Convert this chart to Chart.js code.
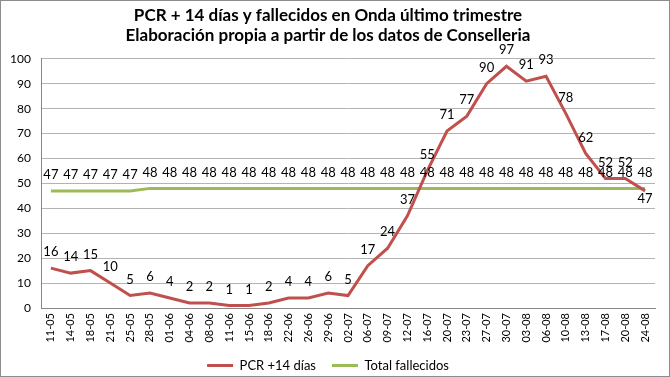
<!DOCTYPE html>
<html>
<head>
<meta charset="utf-8">
<script src="https://cdn.jsdelivr.net/npm/chart.js@4"></script>
<style>
  html, body { margin: 0; padding: 0; background: #fff; }
  #wrap { position: relative; width: 668px; height: 375px; border: 1px solid #8c8c8c; }
</style>
</head>
<body>
<div id="wrap"><canvas id="chart"></canvas></div>
<script>
var fechas = ['11-05', '14-05', '18-05', '21-05', '25-05', '28-05', '01-06', '04-06', '08-06', '11-06',
    '15-06', '18-06', '22-06', '26-06', '29-06', '02-07', '06-07', '09-07', '12-07', '16-07',
    '20-07', '23-07', '27-07', '30-07', '03-08', '06-08', '10-08', '13-08', '17-08', '20-08', '24-08'];
var pcr14 = [16, 14, 15, 10, 5, 6, 4, 2, 2, 1, 1, 2, 4, 4, 6, 5, 17, 24, 37, 55, 71, 77, 90, 97, 91, 93, 78, 62, 52, 52, 47];
var fallecidos = [47, 47, 47, 47, 47, 48, 48, 48, 48, 48, 48, 48, 48, 48, 48, 48, 48, 48, 48, 48,
    48, 48, 48, 48, 48, 48, 48, 48, 48, 48, 48];
var yTicks = [0, 10, 20, 30, 40, 50, 60, 70, 80, 90, 100];

var fontFam = "Lato, 'Open Sans', sans-serif";
Chart.defaults.font.family = fontFam;
Chart.defaults.color = '#000';

// etiquetas de valor estilo Excel: encima del punto, debajo si choca con la otra serie
var valueLabels = {
    id: 'valueLabels',
    afterDatasetsDraw: function(chart) {
        var ctx = chart.ctx;
        ctx.save();
        ctx.font = '13px ' + fontFam;
        ctx.fillStyle = '#000';
        ctx.textAlign = 'center';
        ctx.textBaseline = 'middle';
        chart.data.datasets.forEach(function(ds, di) {
            var meta = chart.getDatasetMeta(di);
            var other = chart.data.datasets[1 - di].data;
            meta.data.forEach(function(pt, i) {
                var v = ds.data[i];
                var dy = -16;
                if (di === 0 && v < other[i] && other[i] - v < 5) dy = 8;
                ctx.fillText(String(v), pt.x, pt.y + dy);
            });
        });
        ctx.restore();
    }
};

new Chart(document.getElementById('chart'), {
    type: 'line',
    data: {
        labels: fechas,
        datasets: [{
            label: 'PCR +14 días',
            data: pcr14,
            borderColor: '#c0504d',
            backgroundColor: '#c0504d',
            borderWidth: 3,
            pointRadius: 0,
            tension: 0
        }, {
            label: 'Total fallecidos',
            data: fallecidos,
            borderColor: '#9bbb59',
            backgroundColor: '#9bbb59',
            borderWidth: 3,
            pointRadius: 0,
            tension: 0
        }]
    },
    options: {
        responsive: true,
        maintainAspectRatio: false,
        animation: false,
        layout: { padding: { left: 0, right: 14, top: 0, bottom: 0 } },
        plugins: {
            title: {
                display: true,
                text: ['PCR + 14 días y fallecidos en Onda último trimestre',
                       'Elaboración propia a partir de los datos de Conselleria'],
                font: { size: 17, weight: 'bold' },
                color: '#000',
                lineHeight: 1.3,
                padding: { top: 4, bottom: 13 }
            },
            legend: {
                position: 'bottom',
                maxHeight: 33,
                labels: {
                    usePointStyle: true,
                    pointStyle: 'line',
                    pointStyleWidth: 26,
                    boxWidth: 26,
                    font: { size: 13 },
                    color: '#000',
                    padding: 16
                }
            },
            tooltip: { enabled: false }
        },
        scales: {
            x: {
                offset: true,
                afterFit: function(axis) { axis.height = 35; },
                grid: { display: false, drawTicks: false },
                border: { color: '#868686' },
                ticks: { minRotation: 90, maxRotation: 90, autoSkip: false, font: { size: 11 }, padding: 5 }
            },
            y: {
                min: 0,
                max: 100,
                afterBuildTicks: function(axis) {
                    axis.ticks = yTicks.map(function(v) { return { value: v }; });
                },
                afterFit: function(axis) { axis.width = 40; },
                grid: { color: '#b3b3b3', drawTicks: false },
                border: { color: '#868686' },
                ticks: { font: { size: 12 }, padding: 10 }
            }
        }
    },
    plugins: [valueLabels]
});
</script>
</body>
</html>
